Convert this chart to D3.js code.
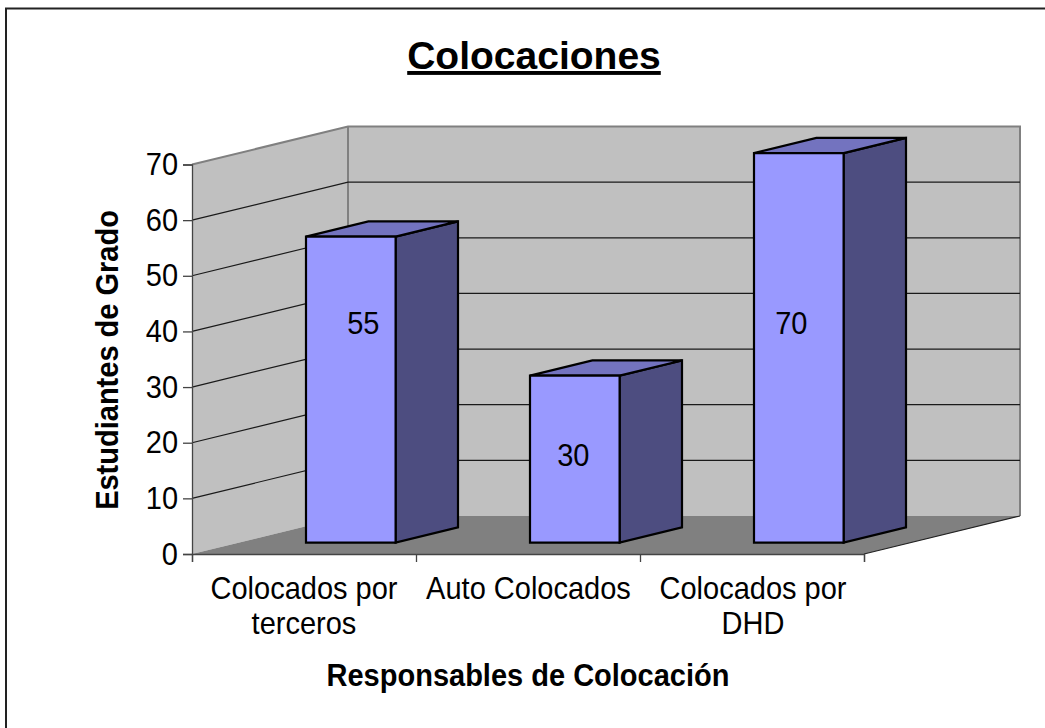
<!DOCTYPE html>
<html><head><meta charset="utf-8">
<script src="https://cdn.jsdelivr.net/npm/d3@7"></script>
<style>
html,body{margin:0;padding:0;background:#fff}
svg{display:block}
text{font-family:"Liberation Sans",Arial,sans-serif;fill:#000}
</style></head><body>
<svg id="c" width="1045" height="728"></svg>
<script>
const titleText = "Colocaciones";
const xAxisTitle = "Responsables de Colocación";
const yAxisTitle = "Estudiantes de Grado";
const categories = ["Colocados por terceros","Auto Colocados","Colocados por DHD"];
const categoryLines = [["Colocados por","terceros"],["Auto Colocados"],["Colocados por","DHD"]];
const values = [55,30,70];
const yTicks = [0,10,20,30,40,50,60,70];

// label placement relative to the bar centre / absolute baseline
const labelDx = [12.5,-1.5,-7.5];
const labelBaseline = [334,466,334];

const svg = d3.select("#c");
const x = d3.scaleBand().domain(categories).range([192,864]).paddingInner(0).paddingOuter(0);
const y = d3.scaleLinear().domain([0,70]).range([554,164.5]);
const depthX = d3.scaleLinear().domain([0,1]).range([0,156]);
const depthY = d3.scaleLinear().domain([0,1]).range([0,-38]);
const P = (px,val,d)=>[px+depthX(d), y(val)+depthY(d)];
const poly = pts => "M"+pts.map(p=>p.join(",")).join("L")+"Z";
const open = pts => "M"+pts.map(p=>p.join(",")).join("L");

// the reference's text is slightly condensed
const FS = 31.5, SQUEEZE = 29/31.5;
function condense(sel){
  sel.attr("font-size",FS).each(function(){
    this.setAttribute("textLength", this.getComputedTextLength()*SQUEEZE);
    this.setAttribute("lengthAdjust","spacingAndGlyphs");
  });
}

// frame: only left and top edges are visible
svg.append("path").attr("d","M6,728V8.5H1045").attr("fill","none").attr("stroke","#222").attr("stroke-width",2);

const xL=192,xR=864;
svg.append("path").attr("d",poly([P(xL,0,0),P(xL,70,0),P(xL,70,1),P(xL,0,1)])).attr("fill","#c0c0c0");
svg.append("path").attr("d",poly([P(xL,0,1),P(xL,70,1),P(xR,70,1),P(xR,0,1)])).attr("fill","#c0c0c0");
svg.append("path").attr("d",poly([P(xL,0,0),P(xL,0,1),P(xR,0,1),P(xR,0,0)])).attr("fill","#808080");
svg.append("path").attr("d",open([P(xL,70,0),P(xL,70,1),P(xR,70,1),P(xR,0,1)]))
  .attr("fill","none").attr("stroke","#808080").attr("stroke-width",2);
svg.append("path").attr("d",open([P(xL,0,1),P(xL,70,1)]))
  .attr("fill","none").attr("stroke","#808080").attr("stroke-width",2);
yTicks.filter(t=>t>0&&t<70).forEach(t=>{
  svg.append("path").attr("d",open([P(xL,t,0),P(xL,t,1),P(xR,t,1)]))
    .attr("fill","none").attr("stroke","#1a1a1a").attr("stroke-width",1.2);
});
svg.append("path").attr("d",open([P(xR,0,0),P(xR,0,1)]))
  .attr("fill","none").attr("stroke","#222").attr("stroke-width",1.2);

const yAxis = d3.axisLeft(y).tickValues(yTicks).tickSize(9).tickPadding(5).tickFormat(d3.format("d"));
const gy = svg.append("g").attr("transform",`translate(${xL},0)`).call(yAxis);
gy.selectAll("text").style("font-family",'"Liberation Sans",Arial,sans-serif').call(condense);
gy.selectAll("path,line").attr("stroke","#444").attr("stroke-width",1.3);

const xEdges = d3.scaleLinear().domain([0,categories.length]).range([xL,xR]);
const xAxis = d3.axisBottom(xEdges).tickValues(d3.range(categories.length+1)).tickSize(8).tickFormat("");
const gx = svg.append("g").attr("transform",`translate(0,${y(0)})`).call(xAxis);
gx.selectAll("path,line").attr("stroke","#444").attr("stroke-width",1.3);

const bw = x.bandwidth();
const dF=0.3, dB=0.7, off0=0.3, off1=0.7;
categories.forEach((c,i)=>{
  const a = x(c)+off0*bw, b = x(c)+off1*bw, v = values[i];
  const g = svg.append("g").attr("stroke","#000").attr("stroke-width",2.2).attr("stroke-linejoin","miter");
  g.append("path").attr("fill","#4d4d80").attr("d",poly([P(b,0,dF),P(b,v,dF),P(b,v,dB),P(b,0,dB)]));
  g.append("path").attr("fill","#7373bf").attr("d",poly([P(a,v,dF),P(a,v,dB),P(b,v,dB),P(b,v,dF)]));
  g.append("path").attr("fill","#9999ff").attr("d",poly([P(a,0,dF),P(a,v,dF),P(b,v,dF),P(b,0,dF)]));
  const fp = P((a+b)/2,v/2,dF);
  svg.append("text").attr("x",fp[0]+labelDx[i]).attr("y",labelBaseline[i]).attr("text-anchor","middle")
    .text(v).call(condense);
});

categoryLines.forEach((lines,i)=>{
  const cx = x(categories[i])+bw/2;
  lines.forEach((l,j)=>svg.append("text").attr("x",cx+i*0.5).attr("y",599+j*35)
    .attr("text-anchor","middle").text(l).call(condense));
});

svg.append("text").attr("x",534).attr("y",69).attr("text-anchor","middle")
  .attr("font-size",39).attr("font-weight","bold").attr("text-decoration","underline").text(titleText);
svg.append("text").attr("x",528).attr("y",686).attr("text-anchor","middle")
  .attr("font-weight","bold").text(xAxisTitle).call(condense);
svg.append("text").attr("transform","translate(118,360) rotate(-90)").attr("text-anchor","middle")
  .attr("font-weight","bold").text(yAxisTitle).call(condense);
</script>
</body></html>
